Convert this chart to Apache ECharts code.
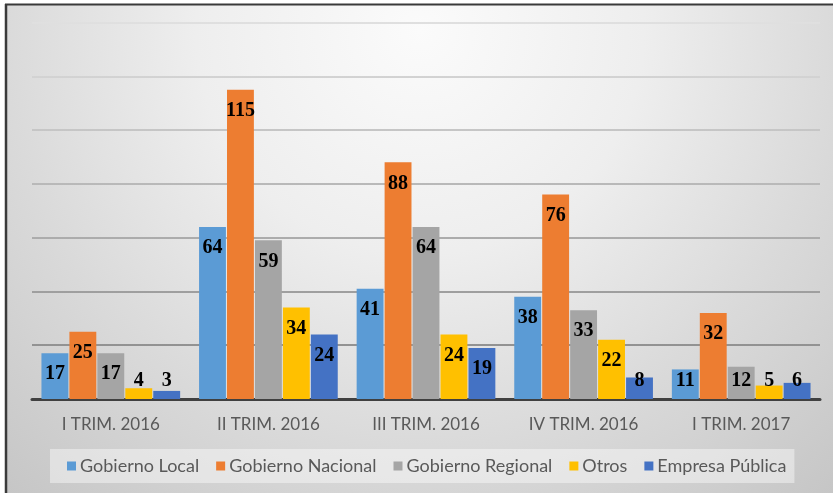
<!DOCTYPE html>
<html>
<head>
<meta charset="utf-8">
<script src="https://cdn.jsdelivr.net/npm/echarts@6/dist/echarts.min.js"></script>
<style>
html,body{margin:0;padding:0;background:#fff;}
#c{width:833px;height:493px;}
</style>
</head>
<body>
<div id="c"></div>
<script>
const categories = ['I TRIM. 2016', 'II TRIM. 2016', 'III TRIM. 2016', 'IV TRIM. 2016', 'I TRIM. 2017'];
const seriesNames = ['Gobierno Local', 'Gobierno Nacional', 'Gobierno Regional', 'Otros', 'Empresa Pública'];
const gobiernoLocal = [17, 64, 41, 38, 11];
const gobiernoNacional = [25, 115, 88, 76, 32];
const gobiernoRegional = [17, 59, 64, 33, 12];
const otros = [4, 34, 24, 22, 5];
const empresaPublica = [3, 24, 19, 8, 6];
const yTicks = [0, 20, 40, 60, 80, 100, 120, 140];

const colors = ['#5b9bd5', '#ed7d31', '#a5a5a5', '#ffc000', '#4472c4'];
const allData = [gobiernoLocal, gobiernoNacional, gobiernoRegional, otros, empresaPublica];

function labelFor(v) {
  if (v >= 15) return { position: 'insideTop', distance: 11 };
  return { position: 'insideBottom', distance: 8 };
}

const chart = echarts.init(document.getElementById('c'), null, { renderer: 'canvas' });
const series = allData.map((arr, i) => ({
  name: seriesNames[i],
  type: 'bar',
  barCategoryGap: '12%',
  barGap: '4%',
  itemStyle: { color: colors[i] },
  label: {
    show: true,
    color: '#000',
    fontFamily: '"Liberation Serif", "Times New Roman", serif',
    fontWeight: 'bold',
    fontSize: 20
  },
  data: arr.map(v => ({ value: v, label: labelFor(v) }))
}));

chart.setOption({
  animation: false,
  color: colors,
  graphic: [
    {
      type: 'rect', z: -10, silent: true,
      shape: { x: 6, y: 5, width: 827, height: 488 },
      style: {
        fill: {
          type: 'radial', x: 420, y: 30, r: 640, global: true,
          colorStops: [
            { offset: 0, color: '#fbfbfb' },
            { offset: 0.35, color: '#eeeeee' },
            { offset: 0.65, color: '#dadada' },
            { offset: 1, color: '#c4c4c4' }
          ]
        }
      }
    },
    { type: 'line', z: 100, silent: true, shape: { x1: 5, y1: 4.5, x2: 833, y2: 4.5 }, style: { stroke: '#3a3a3a', lineWidth: 2 } },
    { type: 'line', z: 100, silent: true, shape: { x1: 6, y1: 4, x2: 6, y2: 493 }, style: { stroke: '#3a3a3a', lineWidth: 2.5 } }
  ],
  grid: { left: 32, right: 13, top: 22.5, bottom: 94, containLabel: false },
  legend: {
    data: seriesNames,
    left: 50,
    top: 449,
    itemWidth: 9,
    itemHeight: 9,
    itemGap: 17,
    padding: [8, 8, 8, 17],
    backgroundColor: 'rgba(255,255,255,0.42)',
    icon: 'rect',
    textStyle: { color: '#595959', fontSize: 18, fontFamily: 'Lato, "Open Sans", sans-serif', padding: [0, 0, 0, -1] }
  },
  xAxis: {
    type: 'category',
    data: categories,
    axisLine: { lineStyle: { color: '#404040', width: 3 } },
    axisTick: { show: false },
    axisLabel: { color: '#595959', fontSize: 17, fontFamily: 'Lato, "Open Sans", sans-serif', margin: 17 }
  },
  yAxis: {
    type: 'value',
    min: yTicks[0],
    max: yTicks[yTicks.length - 1],
    interval: 20,
    axisLabel: { show: false },
    axisLine: { show: false },
    axisTick: { show: false },
    splitLine: {
      lineStyle: {
        width: 2,
        color: {
          type: 'linear', x: 0, y: 20, x2: 0, y2: 400, global: true,
          colorStops: [
            { offset: 0, color: '#e0e0e0' },
            { offset: 1, color: '#858585' }
          ]
        }
      }
    }
  },
  series: series
});
</script>
</body>
</html>
